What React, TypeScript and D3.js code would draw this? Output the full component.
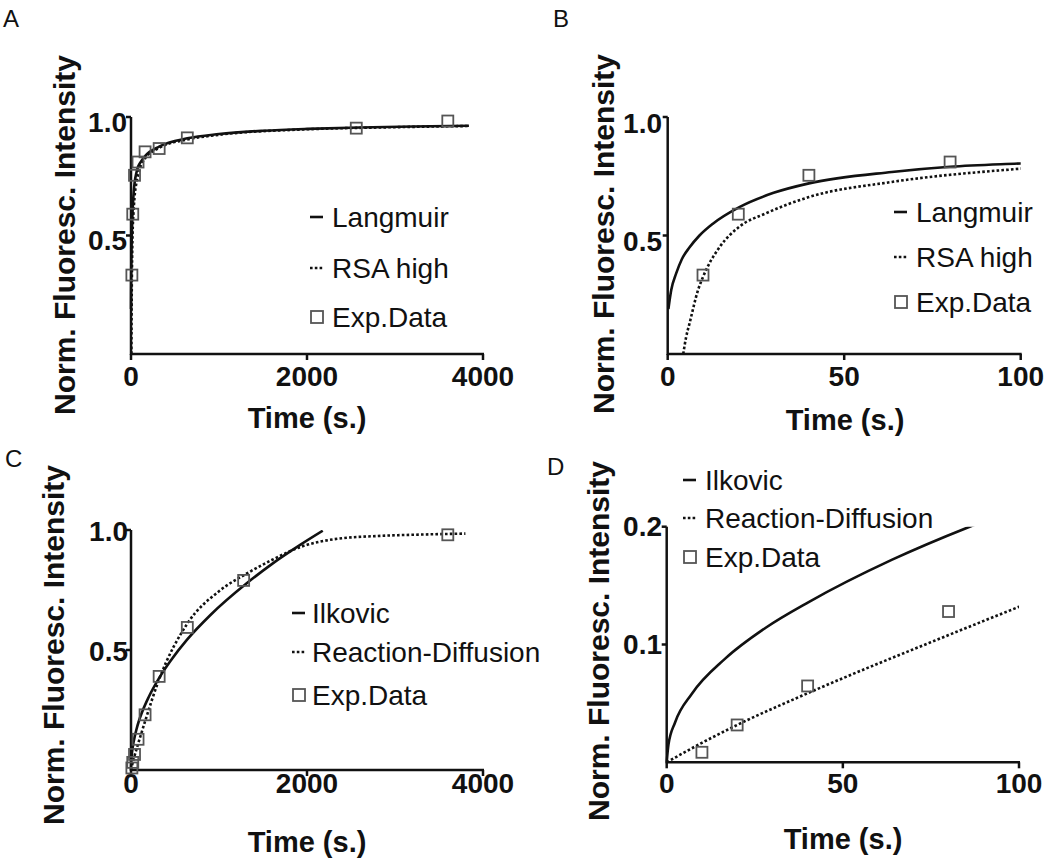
import React from "react";
import * as d3 from "d3";

// ---------- data ----------
// Experimental data (time in s, normalised intensity)
const EXP_AB_T = [10, 20, 40, 80, 160, 320, 640, 2560, 3600];
const EXP_AB_V = [0.333, 0.59, 0.754, 0.81, 0.853, 0.867, 0.912, 0.953, 0.983];

const EXP_CD_T = [10, 20, 40, 80, 160, 320, 640, 1280, 3600];
const EXP_CD_V = [0.0085, 0.0317, 0.0648, 0.128, 0.23, 0.39, 0.594, 0.79, 0.98];

// Model curves
const LANGMUIR_T = [0.2, 1, 2.4, 4, 6.2, 9, 12.8, 20.3, 30, 40, 63.5, 80, 100, 160, 320, 640, 1000, 1500, 2000, 2600, 3200, 3840];
const LANGMUIR_V = [0.19, 0.27, 0.34, 0.4, 0.45, 0.5, 0.55, 0.62, 0.68, 0.72, 0.768, 0.79, 0.804, 0.835, 0.875, 0.91, 0.928, 0.942, 0.95, 0.956, 0.96, 0.963];

const RSA_T = [4.4, 5.2, 6.2, 8.6, 10, 14.8, 20.3, 27.9, 40, 63.5, 100, 160, 320, 640, 1000, 2000, 3000, 3840];
const RSA_V = [0, 0.07, 0.13, 0.27, 0.325, 0.453, 0.537, 0.594, 0.662, 0.726, 0.782, 0.825, 0.87, 0.905, 0.925, 0.948, 0.957, 0.962];

const ILKOVIC_T = [0, 0.5, 2.4, 7.1, 16.6, 28, 40.3, 64, 86, 130, 200, 331, 450, 637, 900, 1322, 1600, 1931, 2179];
const ILKOVIC_V = [0, 0.015, 0.034, 0.058, 0.088, 0.114, 0.136, 0.172, 0.2, 0.245, 0.303, 0.39, 0.455, 0.543, 0.645, 0.78, 0.858, 0.94, 0.997];

const RD_T = [0, 10, 20, 40, 80, 100, 160, 320, 640, 1000, 1322, 1600, 1931, 2314, 2800, 3300, 3800];
const RD_V = [0, 0.0165, 0.0317, 0.0586, 0.108, 0.132, 0.203, 0.378, 0.61, 0.745, 0.82, 0.875, 0.93, 0.962, 0.975, 0.981, 0.985];

// Tick values
const X_TICKS_LONG = [0, 2000, 4000];
const X_TICKS_SHORT = [0, 50, 100];
const Y_TICKS_UNIT = [0.5, 1.0];
const Y_TICKS_SMALL = [0.1, 0.2];

// Labels
const LEGEND_AB = ["Langmuir", "RSA high", "Exp.Data"];
const LEGEND_CD = ["Ilkovic", "Reaction-Diffusion", "Exp.Data"];
const Y_TITLE = "Norm. Fluoresc. Intensity";
const X_TITLE = "Time (s.)";

const zip = (t: number[], v: number[]) => t.map((x, i) => ({ t: x, v: v[i] }));

const FONT = "'Liberation Sans', Arial, Helvetica, sans-serif";
const INK = "#111";

type Panel = {
  key: string;
  letter: [number, number];
  xDomain: [number, number];
  xRange: [number, number];
  yDomain: [number, number];
  yRange: [number, number];
  xTicks: number[];
  yTicks: number[];
  yFmt: (v: number) => string;
  yLabelRight: number;
  yLabelDy: number;
  xLabelDy: number;
  yTitle: [number, number];
  xTitleBaseline: [number, number];
  solid: { t: number; v: number }[];
  dotted: { t: number; v: number }[];
  exp: { t: number; v: number }[];
  legendLabels: string[];
  legendSymX: number;
  legendTextX: number;
  legendRows: number[];
};

const fmt1 = d3.format(".1f");

const PANELS: Panel[] = [
  {
    key: "A", letter: [3, 27],
    xDomain: [0, 4000], xRange: [131, 483], yDomain: [0, 1], yRange: [354, 117],
    xTicks: X_TICKS_LONG, yTicks: Y_TICKS_UNIT, yFmt: fmt1,
    yLabelRight: 127, yLabelDy: 5, xLabelDy: 22,
    yTitle: [64, 235], xTitleBaseline: [307, 428],
    solid: zip(LANGMUIR_T, LANGMUIR_V), dotted: zip(RSA_T, RSA_V), exp: zip(EXP_AB_T, EXP_AB_V),
    legendLabels: LEGEND_AB, legendSymX: 310, legendTextX: 332, legendRows: [217, 268, 317],
  },
  {
    key: "B", letter: [553, 27],
    xDomain: [0, 100], xRange: [667.7, 1020.7], yDomain: [0, 1], yRange: [354, 117],
    xTicks: X_TICKS_SHORT, yTicks: Y_TICKS_UNIT, yFmt: fmt1,
    yLabelRight: 662, yLabelDy: 6, xLabelDy: 22,
    yTitle: [603, 234], xTitleBaseline: [845, 430],
    solid: zip(LANGMUIR_T, LANGMUIR_V), dotted: zip(RSA_T, RSA_V), exp: zip(EXP_AB_T, EXP_AB_V),
    legendLabels: LEGEND_AB, legendSymX: 894, legendTextX: 916, legendRows: [212, 257, 302],
  },
  {
    key: "C", letter: [5, 467],
    xDomain: [0, 4000], xRange: [131, 483], yDomain: [0, 1], yRange: [770, 530],
    xTicks: X_TICKS_LONG, yTicks: Y_TICKS_UNIT, yFmt: fmt1,
    yLabelRight: 128, yLabelDy: 1, xLabelDy: 13,
    yTitle: [53, 645], xTitleBaseline: [307, 852],
    solid: zip(ILKOVIC_T, ILKOVIC_V), dotted: zip(RD_T, RD_V), exp: zip(EXP_CD_T, EXP_CD_V),
    legendLabels: LEGEND_CD, legendSymX: 292, legendTextX: 312, legendRows: [613, 652, 695],
  },
  {
    key: "D", letter: [547, 475],
    xDomain: [0, 100], xRange: [666.7, 1019], yDomain: [0, 0.2], yRange: [762.3, 526.7],
    xTicks: X_TICKS_SHORT, yTicks: Y_TICKS_SMALL, yFmt: fmt1,
    yLabelRight: 662, yLabelDy: 0, xLabelDy: 21,
    yTitle: [598, 641], xTitleBaseline: [843, 849],
    solid: zip(ILKOVIC_T, ILKOVIC_V), dotted: zip(RD_T, RD_V), exp: zip(EXP_CD_T, EXP_CD_V),
    legendLabels: LEGEND_CD, legendSymX: 683, legendTextX: 705, legendRows: [480, 518, 557],
  },
];

const DASH = "2.6,2.2";
const SQ = 11;

function PanelView({ p }: { p: Panel }) {
  const x = d3.scaleLinear().domain(p.xDomain).range(p.xRange);
  const y = d3.scaleLinear().domain(p.yDomain).range(p.yRange);
  const line = d3
    .line<{ t: number; v: number }>()
    .x((d) => x(d.t))
    .y((d) => y(d.v))
    .curve(d3.curveMonotoneX);
  const clipId = `clip-${p.key}`;
  const [x0, x1] = p.xRange;
  const [yb, yt] = p.yRange;
  const expVisible = p.exp.filter((d) => d.t <= p.xDomain[1] && d.v <= p.yDomain[1] * 1.05);

  return (
    <g>
      <defs>
        <clipPath id={clipId}>
          <rect x={x0 - 2} y={yt} width={x1 - x0 + 2} height={yb - yt + 2} />
        </clipPath>
      </defs>
      {/* panel letter */}
      <text x={p.letter[0]} y={p.letter[1]} fontSize={24} fontFamily={FONT} fill={INK}>
        {p.key}
      </text>
      {/* curves */}
      <g clipPath={`url(#${clipId})`} fill="none" stroke={INK} strokeWidth={2.6}>
        <path d={line(p.dotted) || ""} strokeDasharray={DASH} />
        <path d={line(p.solid) || ""} />
      </g>
      {/* axes */}
      <g stroke={INK} strokeWidth={2.5} fill="none">
        <line x1={x0} x2={x1 + 1} y1={yb} y2={yb} />
        <line x1={x0} x2={x0} y1={yb + 1} y2={yt} />
        {p.xTicks.map((t) => (
          <line key={`xt${t}`} x1={x(t)} x2={x(t)} y1={yb} y2={yb + 6} />
        ))}
        {p.yTicks.map((t) => (
          <line key={`yt${t}`} x1={x0} x2={x0 - 5} y1={y(t)} y2={y(t)} />
        ))}
      </g>
      {/* tick labels */}
      <g fontFamily={FONT} fontWeight="bold" fontSize={28} fill={INK}>
        {p.xTicks.map((t) => (
          <text key={`xl${t}`} x={x(t)} y={yb + p.xLabelDy} textAnchor="middle" dominantBaseline="central">
            {String(t)}
          </text>
        ))}
        {p.yTicks.map((t) => (
          <text key={`yl${t}`} x={p.yLabelRight} y={y(t) + p.yLabelDy} textAnchor="end" dominantBaseline="central">
            {p.yFmt(t)}
          </text>
        ))}
      </g>
      {/* experimental squares */}
      <g fill="none" stroke="#555" strokeWidth={1.8}>
        {expVisible.map((d, i) => (
          <rect key={i} x={x(d.t) - SQ / 2} y={y(d.v) - SQ / 2} width={SQ} height={SQ} />
        ))}
      </g>
      {/* axis titles */}
      <text
        transform={`translate(${p.yTitle[0]},${p.yTitle[1]}) rotate(-90)`}
        textAnchor="middle"
        dominantBaseline="central"
        fontFamily={FONT}
        fontWeight="bold"
        fontSize={30}
        fill={INK}
      >
        {Y_TITLE}
      </text>
      <text
        x={p.xTitleBaseline[0]}
        y={p.xTitleBaseline[1]}
        textAnchor="middle"
        fontFamily={FONT}
        fontWeight="bold"
        fontSize={29}
        fill={INK}
      >
        {X_TITLE}
      </text>
      {/* legend */}
      <g fontFamily={FONT} fontSize={28} fill={INK}>
        {p.legendLabels.map((lab, i) => {
          const cy = p.legendRows[i];
          const sx = p.legendSymX;
          return (
            <g key={lab}>
              {i === 0 && <line x1={sx} x2={sx + 13} y1={cy} y2={cy} stroke={INK} strokeWidth={2.6} />}
              {i === 1 && (
                <line x1={sx} x2={sx + 13} y1={cy} y2={cy} stroke={INK} strokeWidth={2.6} strokeDasharray={DASH} />
              )}
              {i === 2 && (
                <rect x={sx + 1} y={cy - 6} width={12} height={12} fill="none" stroke="#555" strokeWidth={1.8} />
              )}
              <text x={p.legendTextX} y={cy} dominantBaseline="central">
                {lab}
              </text>
            </g>
          );
        })}
      </g>
    </g>
  );
}

export default function App() {
  return (
    <svg
      width={1050}
      height={859}
      viewBox="0 0 1050 859"
      style={{ position: "absolute", left: 0, top: 0, background: "#fff" }}
    >
      <rect x={0} y={0} width={1050} height={859} fill="#fff" />
      {PANELS.map((p) => (
        <PanelView key={p.key} p={p} />
      ))}
    </svg>
  );
}
